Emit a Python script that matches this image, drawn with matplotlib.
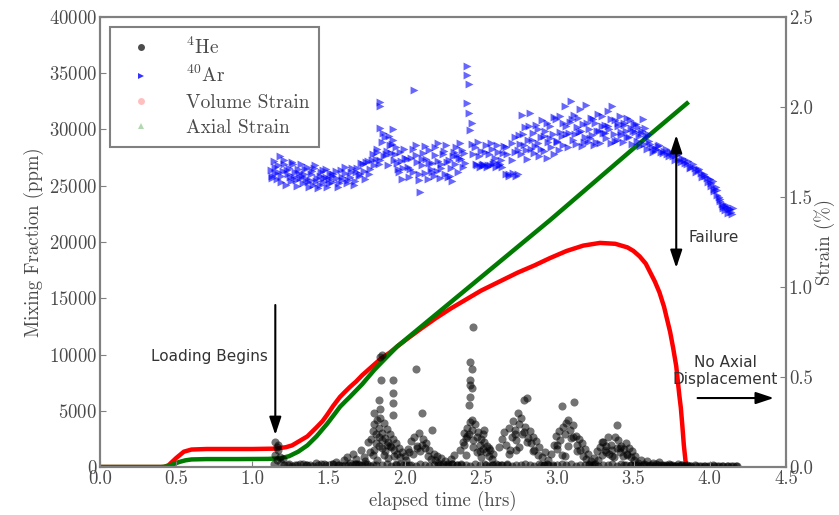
import numpy as np
import matplotlib
matplotlib.use("Agg")
import matplotlib.pyplot as plt
from matplotlib.lines import Line2D

plt.rcParams['font.family'] = 'serif'
plt.rcParams['font.serif'] = ['cmr10']
plt.rcParams['mathtext.fontset'] = 'cm'
plt.rcParams['axes.formatter.use_mathtext'] = True

# 40Ar mixing fraction (ppm) vs elapsed time (hrs)
ar_t = [1.12, 1.13, 1.14, 1.15, 1.16, 1.17, 1.18, 1.19, 1.20, 1.21, 1.22, 1.23, 1.24, 1.25, 1.26, 1.27, 1.28, 1.29, 1.30, 1.31,
        1.32, 1.33, 1.34, 1.35, 1.36, 1.37, 1.38, 1.39, 1.40, 1.41, 1.42, 1.43, 1.44, 1.45, 1.46, 1.47, 1.48, 1.49, 1.50, 1.51,
        1.52, 1.53, 1.55, 1.56, 1.58, 1.59, 1.61, 1.62, 1.64, 1.65, 1.67, 1.68, 1.70, 1.71, 1.73, 1.74, 1.76, 1.77, 1.79, 1.80,
        1.81, 1.82, 1.83, 1.84, 1.84, 1.84, 1.85, 1.86, 1.87, 1.88, 1.89, 1.90, 1.91, 1.92, 1.92, 1.93, 1.94, 1.95, 1.96, 1.97,
        1.98, 1.99, 2.00,
        2.02, 2.03, 2.04, 2.05, 2.06, 2.07, 2.08, 2.09, 2.10, 2.11, 2.12, 2.13, 2.14, 2.15, 2.16, 2.17, 2.18, 2.19, 2.20, 2.21,
        2.22, 2.23, 2.24, 2.25, 2.26, 2.27, 2.28, 2.29, 2.30, 2.31, 2.32, 2.33, 2.34, 2.35, 2.36, 2.37, 2.38, 2.39,
        2.41, 2.41, 2.42, 2.41, 2.42, 2.43, 2.44, 2.44, 2.45,
        2.46, 2.47, 2.48, 2.49, 2.50, 2.51, 2.52, 2.53, 2.54, 2.55, 2.56, 2.57, 2.58, 2.59, 2.60, 2.61, 2.62, 2.63, 2.64, 2.65,
        2.66, 2.67, 2.68, 2.70, 2.71, 2.72, 2.73, 2.74,
        2.75, 2.76, 2.77, 2.78, 2.79, 2.80, 2.81, 2.82, 2.83, 2.84, 2.85, 2.86, 2.87, 2.88, 2.89, 2.90, 2.91, 2.92, 2.93, 2.94,
        2.95, 2.96, 2.97, 2.98, 2.99, 3.00, 3.01, 3.02, 3.03, 3.04,
        3.05, 3.06, 3.07, 3.08, 3.09, 3.10, 3.11, 3.12, 3.13, 3.14, 3.15, 3.16, 3.17, 3.18, 3.19, 3.20, 3.21, 3.22, 3.23, 3.24,
        3.25, 3.26, 3.27, 3.28, 3.29, 3.30,
        3.31, 3.32, 3.33, 3.34, 3.35, 3.36, 3.37, 3.38, 3.39, 3.40, 3.41, 3.42, 3.43, 3.44, 3.45, 3.46, 3.47, 3.48, 3.49, 3.50,
        3.51, 3.52, 3.53, 3.54, 3.55, 3.56, 3.57, 3.58, 3.59, 3.60,
        3.62, 3.64, 3.66, 3.68, 3.70, 3.72, 3.74, 3.76, 3.78, 3.80, 3.82, 3.84, 3.86, 3.88, 3.90, 3.92, 3.94, 3.96, 3.98, 4.00,
        4.01, 4.02, 4.03, 4.04, 4.05, 4.06, 4.07, 4.08, 4.09, 4.10, 4.11, 4.12, 4.13, 4.14, 4.15,
        # second pass through the band
        1.125, 1.145, 1.165, 1.185, 1.205, 1.225, 1.245, 1.265, 1.285, 1.305, 1.325, 1.345, 1.365, 1.385, 1.405, 1.425,
        1.445, 1.465, 1.485, 1.505,
        1.525, 1.545, 1.565, 1.585, 1.605, 1.625, 1.645, 1.665, 1.685, 1.705, 1.725, 1.745, 1.765, 1.785,
        1.815, 1.835, 1.855, 1.875, 1.895, 1.915, 1.935, 1.955, 1.975, 1.995, 2.015, 2.035, 2.055, 2.075, 2.095, 2.115,
        2.135, 2.155, 2.175, 2.195, 2.215, 2.235, 2.255, 2.275, 2.295, 2.315, 2.335, 2.355, 2.375, 2.395,
        2.465, 2.485, 2.505, 2.525, 2.545, 2.565, 2.585, 2.605, 2.625, 2.645, 2.665, 2.685, 2.705, 2.725, 2.745,
        2.755, 2.775, 2.795, 2.815, 2.835, 2.855, 2.875, 2.895, 2.915, 2.935, 2.955, 2.975, 2.995, 3.015, 3.035,
        3.055, 3.075, 3.095, 3.115, 3.135, 3.155, 3.175, 3.195, 3.215, 3.235, 3.255, 3.275, 3.295,
        3.315, 3.335, 3.355, 3.375, 3.395, 3.415, 3.435, 3.455, 3.475, 3.495, 3.515, 3.535, 3.555, 3.575, 3.595,
        3.61, 3.63, 3.65, 3.67, 3.69, 3.71, 3.73, 3.75, 3.77, 3.79, 3.81, 3.83, 3.85, 3.87, 3.89, 3.91, 3.93, 3.95,
        3.97, 3.99, 4.005, 4.025, 4.045, 4.065, 4.085, 4.105, 4.125, 4.145]
ar_ppm = [26400, 25900, 27200, 26100, 25600, 26800, 27600, 25300, 26300, 26900, 25100, 26000, 26600, 25400, 27100, 25800, 26200, 25000, 26500, 25700,
          26900, 25200, 26000, 25600, 26700, 24900, 25500, 26300, 25100, 26800, 25400, 24800, 25900, 26200, 25300, 25700, 26500, 24900, 25600, 26100,
          25300, 26000, 25700, 24900, 26400, 25500, 26100, 25200, 25800, 26600, 25400, 26200, 25900, 27000, 26300, 25600, 27200, 26500, 27800, 26800,
          27400, 28300, 26900, 32400, 32100, 30100, 28900, 27600, 29300, 28100, 26800, 28600, 27900, 30000, 29100, 27300, 28400, 27000, 26200, 28000,
          25600, 26600, 27500,
          26700, 25800, 27500, 26200, 33500, 28600, 27100, 25500, 24400, 26800, 27900, 26100, 27400, 25600, 28200, 26500, 27000, 25900, 28400, 26300,
          27200, 25700, 26900, 27800, 26000, 28600, 25800, 27300, 26600, 25400, 28000, 26900, 27700, 26200, 28800, 27400, 26700, 27900,
          35650, 34850, 34050, 32360, 31470, 29960, 30600, 28700, 27800,
          28400, 26800, 28900, 26700, 28100, 26900, 26800, 28600, 26700, 27800, 26800, 28300, 26900, 27500, 26700, 28000, 26800, 27300, 26700, 28500,
          26000, 27800, 25900, 28800, 26100, 29300, 25900, 28200,
          29500, 27800, 31300, 28600, 30200, 27400, 29100, 31500, 28300, 29700, 27900, 30400, 28800, 27600, 29300, 30800, 28100, 29900, 27500, 28900,
          30300, 28400, 29600, 27800, 30900, 29000, 28200, 31200, 29400, 28600,
          32100, 29600, 28400, 30700, 32500, 29100, 31300, 28700, 30200, 29800, 31800, 28500, 30500, 29300, 32200, 28900, 30000, 31000, 29500, 28600,
          30600, 29900, 31400, 28800, 30300, 29700,
          30400, 29200, 31600, 30000, 28800, 32100, 29600, 30800, 29100, 30300, 31200, 29500, 28900, 30600, 29900, 31000, 29300, 30100, 28700, 30500,
          29800, 29000, 30200, 28500, 29700, 30900, 28700, 29400, 28300, 29000,
          28400, 28200, 28500, 28000, 28100, 27800, 28000, 27600, 27700, 27300, 27500, 27000, 27200, 26700, 26600, 26400, 26100, 26000, 25700, 25600,
          25200, 25400, 24700, 24900, 24200, 24000, 23600, 23400, 23000, 22800, 23100, 22600, 22900, 22700, 23000,
          25700, 26700, 26200, 25900, 27300, 26400, 25800, 26900, 25500, 26100, 25900, 26500, 25300, 26000, 26600, 25700,
          25100, 26400, 25800, 25200,
          25900, 26300, 25200, 25800, 26700, 25500, 26200, 25100, 26600, 26000, 26900, 27100, 26000, 27300,
          28000, 27300, 29700, 27800, 29400, 28700, 27800, 26500, 27200, 28300, 27400, 26500, 28300, 27700, 26000, 27400,
          28500, 27000, 26200, 27700, 28800, 26600, 28100, 27100, 25900, 27600, 28400, 27500, 28200, 27000,
          26900, 27600, 26800, 28000, 26800, 28800, 27100, 28600, 26900, 27900, 28400, 26000, 27300, 28000, 26000,
          28700, 29600, 28200, 30300, 29100, 28500, 30000, 28300, 29400, 30600, 29200, 31100, 28900, 29800, 30600,
          30300, 29700, 30900, 29600, 31000, 29900, 28900, 30600, 29200, 30900, 28900, 29900, 31200,
          29700, 30300, 30900, 29000, 30600, 29800, 30400, 29300, 30800, 29900, 30500, 29400, 29900, 30100, 29600,
          28700, 28000, 28300, 28600, 27900, 28300, 27600, 27900, 27300, 27800, 27100, 27300, 26900, 26600, 26900, 26200,
          26500, 25800, 25900, 25300, 25000, 24500, 24600, 23800, 23200, 23300, 22900, 22500]

# 4He mixing fraction (ppm)
he_t = [1.14, 1.15, 1.15, 1.16, 1.16, 1.17, 1.17, 1.18, 1.19, 1.20,
        1.24, 1.28, 1.31, 1.35, 1.38, 1.42, 1.45, 1.48, 1.52, 1.55, 1.57, 1.60,
        1.62, 1.64, 1.66, 1.68, 1.69, 1.71, 1.73, 1.74, 1.76, 1.77,
        1.84, 1.845, 1.85, 1.92, 1.92, 1.92, 1.83, 1.84, 1.80, 1.92,
        1.78, 1.79, 1.80, 1.81, 1.82, 1.83, 1.84, 1.85, 1.86, 1.87, 1.88, 1.89, 1.90, 1.91, 1.92, 1.93, 1.94, 1.95,
        1.96, 1.97, 1.98, 1.80, 1.83, 1.86, 1.89, 1.82, 1.88, 1.85,
        2.07, 2.11, 2.18, 2.00, 2.02, 2.04, 2.05, 2.06, 2.08, 2.09, 2.10, 2.12, 2.13, 2.14, 2.15, 2.16, 2.17, 2.19,
        2.20, 2.21, 2.22, 2.24, 2.26, 2.28, 2.30, 2.32,
        2.45, 2.43, 2.44, 2.43, 2.43, 2.44, 2.43, 2.42, 2.43, 2.36, 2.38, 2.39, 2.40, 2.41, 2.42, 2.44, 2.45, 2.46,
        2.47, 2.48, 2.49, 2.50, 2.51, 2.52, 2.53, 2.54, 2.55, 2.56, 2.57, 2.58, 2.40, 2.47, 2.50, 2.44, 2.52,
        2.78, 2.80, 2.74, 2.62, 2.64, 2.65, 2.66, 2.68, 2.70, 2.71, 2.72, 2.73, 2.75, 2.76, 2.77, 2.79, 2.81, 2.82,
        2.83, 2.84, 2.85, 2.86, 2.87, 2.88, 2.90, 2.92, 2.94, 2.68, 2.73,
        3.03, 3.11, 3.07, 2.96, 2.98, 2.99, 3.00, 3.01, 3.02, 3.04, 3.05, 3.06, 3.08, 3.09, 3.10, 3.12, 3.13, 3.14,
        3.15, 3.16, 3.17, 3.18, 3.19, 3.20, 3.22, 3.05,
        3.39, 3.33, 3.38, 3.24, 3.26, 3.27, 3.28, 3.29, 3.30, 3.31, 3.32, 3.34, 3.35, 3.36, 3.37, 3.39, 3.40, 3.41,
        3.42, 3.43, 3.44, 3.45, 3.46, 3.47, 3.48, 3.49, 3.50, 3.51,
        3.53, 3.55, 3.57, 3.59, 3.61, 3.63, 3.65, 3.67, 3.69, 3.71, 3.73, 3.75, 3.77, 3.79, 3.81, 3.83, 3.85, 3.87,
        3.90, 3.93, 3.96, 3.99, 4.02, 4.05, 4.08, 4.11, 4.14, 4.17,
        1.63, 1.67, 1.70, 1.75, 1.79, 1.94, 1.99, 2.03, 2.23, 2.27, 2.31, 2.34, 2.37, 2.53, 2.57, 2.60, 2.63, 2.67,
        2.89, 2.91, 2.93, 2.97, 3.21, 3.23, 3.25, 3.44, 3.48, 3.52,
        # near-zero baseline
        1.21, 1.23, 1.26, 1.29, 1.33, 1.36, 1.40, 1.43, 1.47, 1.50, 1.53, 1.56, 1.59, 1.61, 1.65, 1.68, 1.72, 1.74,
        1.77, 1.81, 1.85, 1.88, 1.91, 1.94, 1.97, 2.01, 2.04, 2.07, 2.10, 2.13, 2.16, 2.19, 2.22, 2.25, 2.28, 2.31,
        2.34, 2.37, 2.40, 2.43, 2.46, 2.49, 2.52, 2.55, 2.58, 2.61, 2.64, 2.67, 2.70, 2.73, 2.76, 2.79, 2.82, 2.85,
        2.88, 2.91, 2.94, 2.97, 3.00, 3.03, 3.06, 3.09, 3.12, 3.15, 3.18, 3.21, 3.24, 3.27, 3.30, 3.33, 3.36, 3.39,
        3.42, 3.45, 3.48, 3.51, 3.54, 3.56, 3.58, 3.60, 3.62, 3.64, 3.66, 3.68, 3.70, 3.72, 3.74, 3.76, 3.78, 3.80,
        3.82, 3.84, 3.86, 3.88, 3.91, 3.94, 3.97, 4.00, 4.03, 4.06, 4.09, 4.12, 4.15, 4.18,
        # extra cluster points
        1.79, 1.81, 1.83, 1.85, 1.87, 1.90, 1.93, 2.01, 2.03, 2.08, 2.11, 2.39, 2.41, 2.45, 2.49, 2.51, 2.55,
        2.69, 2.72, 2.75, 2.78, 2.80, 2.84, 3.00, 3.03, 3.07, 3.10, 3.13, 3.29, 3.32, 3.36, 3.41, 3.46]
he_ppm = [300, 2200, 1100, 1800, 600, 1500, 2000, 900, 400, 700,
          250, 150, 300, 200, 150, 350, 250, 180, 300, 450, 200, 600,
          900, 400, 1200, 700, 300, 1500, 900, 500, 2200, 1300,
          9780, 7730, 9950, 7730, 6580, 5690, 5960, 5160, 4800, 4620,
          2500, 3200, 3800, 2900, 4200, 3500, 4400, 3000, 3900, 2600, 3400, 2200, 2900, 1800, 2500, 1500, 2100, 1200,
          1700, 900, 1300, 1500, 1900, 1100, 800, 600, 2000, 1700,
          8710, 4800, 3290, 1000, 1600, 2300, 1200, 2700, 1900, 3000, 1400, 2500, 1700, 2100, 1000, 1500, 700, 1200,
          600, 1000, 400, 800, 500, 300, 700, 1100,
          12450, 9330, 8710, 7730, 7330, 7020, 6220, 5510, 4000, 1500, 2200, 3000, 2600, 3500, 2900, 3300, 2400, 3800,
          2700, 3100, 2000, 2500, 1600, 2200, 1300, 1900, 1000, 1500, 700, 1200, 1100, 1300, 900, 4180, 3290,
          5960, 6100, 4800, 1800, 2500, 3100, 2000, 3500, 2700, 4100, 3300, 2400, 3800, 4400, 2900, 3600, 2600, 3200,
          2100, 2700, 1500, 2300, 1100, 1800, 900, 1300, 600, 1200, 1500,
          5420, 5780, 4180, 1200, 2000, 2800, 1600, 3200, 2400, 3600, 2900, 3900, 3300, 2600, 3700, 2800, 2000, 2500,
          1500, 2100, 1000, 1600, 700, 1200, 500, 1000,
          3730, 2670, 2670, 800, 1400, 600, 1800, 1100, 2200, 1500, 1900, 1200, 2000, 1500, 900, 1700, 2400, 1300,
          1900, 1000, 1600, 2100, 1200, 1700, 900, 1400, 600, 1000,
          400, 600, 300, 500, 200, 350, 250, 450, 200, 150, 300, 200, 100, 250, 150, 100, 200, 100,
          150, 100, 120, 100, 150, 100, 120, 100, 130, 100,
          200, 250, 150, 300, 200, 250, 150, 200, 150, 200, 250, 150, 300, 200, 150, 250, 200, 150,
          200, 150, 250, 200, 150, 200, 250, 200, 150, 200,
          150, 200, 120, 180, 250, 150, 100, 200, 300, 150, 250, 180, 120, 220, 150, 300, 180, 250,
          120, 200, 150, 250, 100, 180, 300, 150, 200, 120, 250, 180, 100, 200, 150, 300, 120, 250,
          180, 150, 200, 100, 250, 150, 300, 120, 200, 180, 150, 250, 100, 200, 150, 300, 180, 120,
          250, 150, 200, 100, 180, 250, 150, 300, 120, 200, 150, 250, 180, 100, 200, 150, 300, 120,
          250, 180, 150, 200, 100, 150, 200, 120, 180, 100, 150, 200, 120, 100, 150, 130, 100, 120,
          150, 100, 130, 120, 100, 110, 130, 100, 120, 110, 100, 120, 100, 110,
          1100, 2100, 2700, 2400, 1400, 1900, 1000, 600, 1300, 1700, 2000, 2000, 2800, 1800, 1400, 2900, 1700,
          1500, 2900, 1800, 3100, 2200, 1400, 2000, 1100, 1900, 2700, 1400, 2200, 1300, 1000, 1700, 1100]

# axial strain (%)
ax_t = [0.00, 0.40, 0.44, 0.48, 0.52, 0.56, 0.60, 0.70, 0.90, 1.10, 1.18, 1.24, 1.30, 1.36, 1.42, 1.49,
        1.535, 1.575, 1.61, 1.64, 1.68, 1.72, 1.76, 1.80, 1.84, 1.88, 1.95, 2.30, 2.95, 3.50, 3.85]
ax_strain = [0.0, 0.0, 0.003, 0.015, 0.028, 0.037, 0.042, 0.044, 0.044, 0.045, 0.048, 0.06, 0.085, 0.12, 0.17, 0.24,
             0.29, 0.335, 0.365, 0.39, 0.425, 0.46, 0.50, 0.54, 0.575, 0.61, 0.67, 0.915, 1.37, 1.77, 2.02]

# volume strain (%)
vol_t = [0.00, 0.42, 0.45, 0.50, 0.55, 0.60, 0.70, 1.00, 1.15, 1.22, 1.26, 1.29, 1.32, 1.36, 1.39, 1.42, 1.46, 1.49,
         1.53, 1.575, 1.61, 1.64, 1.68, 1.72, 1.78, 1.84, 1.90, 1.95, 2.02, 2.10, 2.20, 2.30, 2.40, 2.50, 2.62, 2.74,
         2.85, 2.95, 3.06, 3.17, 3.28, 3.38, 3.46, 3.50, 3.54, 3.58, 3.61, 3.64, 3.67, 3.70, 3.72, 3.74, 3.76, 3.78,
         3.79, 3.80, 3.81, 3.82, 3.83, 3.845]
vol_strain = [0.0, 0.0, 0.01, 0.05, 0.085, 0.097, 0.10, 0.10, 0.102, 0.11, 0.12, 0.135, 0.15, 0.17, 0.195, 0.22, 0.255, 0.29,
              0.34, 0.39, 0.42, 0.445, 0.475, 0.51, 0.555, 0.60, 0.635, 0.67, 0.715, 0.765, 0.825, 0.88, 0.93, 0.98, 1.03, 1.08,
              1.12, 1.16, 1.20, 1.23, 1.245, 1.24, 1.22, 1.20, 1.17, 1.13, 1.08, 1.03, 0.97, 0.89, 0.82, 0.75, 0.66, 0.56,
              0.48, 0.40, 0.33, 0.23, 0.12, 0.0]

grey = '#808080'
txt = '#4a4a4a'

fig = plt.figure(figsize=(8.39, 5.15), dpi=100)
ax1 = fig.add_axes([100 / 839, 48 / 515, 686 / 839, 450 / 515])
ax2 = ax1.twinx()

ax2.plot(vol_t, vol_strain, color='#ff0000', lw=3.2, solid_joinstyle='round')
ax2.plot(ax_t, ax_strain, color='#007a00', lw=3.2, solid_joinstyle='round')

ax1.set_zorder(ax2.get_zorder() + 1)
ax1.patch.set_visible(False)
ax1.scatter(he_t, he_ppm, s=34, marker='o', color='black', alpha=0.55, linewidths=0)
ax1.scatter(ar_t, ar_ppm, s=32, marker='>', color='blue', alpha=0.6, linewidths=0)

ax1.set_xlim(0, 4.5)
ax1.set_ylim(0, 40000)
ax2.set_ylim(0, 2.5)
ax1.set_xticks(np.arange(0, 4.51, 0.5))
ax1.set_yticks(np.arange(0, 40001, 5000))
ax2.set_yticks(np.arange(0, 2.51, 0.5))
ax1.xaxis.set_major_formatter(plt.FormatStrFormatter('%.1f'))
ax2.yaxis.set_major_formatter(plt.FormatStrFormatter('%.1f'))

for a in (ax1, ax2):
    for s in a.spines.values():
        s.set_color(grey)
        s.set_linewidth(1.5)
    a.tick_params(direction='in', length=4, color=grey, labelsize=13.5, labelcolor=txt, pad=2)

ax1.set_xlabel('elapsed time (hrs)', fontsize=13.5, color=txt, labelpad=2)
ax1.set_ylabel('Mixing Fraction (ppm)', fontsize=13.5, color=txt, labelpad=4)
ax2.set_ylabel('Strain (%)', fontsize=13.5, color=txt, labelpad=1)

# annotations
sans = 'DejaVu Sans'
arrow_kw = dict(color='black', lw=1.5, mutation_scale=12, shrinkA=0, shrinkB=0)
ax1.annotate('', xy=(1.15, 2850), xytext=(1.15, 14400),
             arrowprops=dict(arrowstyle='-|>,head_length=0.9,head_width=0.3', **arrow_kw))
ax1.text(0.715, 9780, 'Loading Begins', family=sans, fontsize=11, color='#333333', ha='center', va='center')

ax1.annotate('', xy=(3.78, 17700), xytext=(3.78, 29500),
             arrowprops=dict(arrowstyle='<|-|>,head_length=0.9,head_width=0.3', **arrow_kw))
ax1.text(3.86, 20400, 'Failure', family=sans, fontsize=11, color='#333333', ha='left', va='center')

ax1.annotate('', xy=(4.42, 6130), xytext=(3.92, 6130),
             arrowprops=dict(arrowstyle='-|>,head_length=0.9,head_width=0.3', **arrow_kw), annotation_clip=False)
ax1.text(4.10, 8530, 'No Axial\nDisplacement', family=sans, fontsize=11, color='#333333',
         ha='center', va='center', multialignment='center', linespacing=1.15)

handles = [Line2D([], [], ls='none', marker='o', color='black', alpha=0.7, markersize=5, markeredgewidth=0),
           Line2D([], [], ls='none', marker='>', color='blue', alpha=0.8, markersize=5, markeredgewidth=0),
           Line2D([], [], ls='none', marker='o', color='red', alpha=0.25, markersize=5, markeredgewidth=0),
           Line2D([], [], ls='none', marker='^', color='green', alpha=0.3, markersize=5, markeredgewidth=0)]
labels = ['$^{4}$He', '$^{40}$Ar', 'Volume Strain', 'Axial Strain']
leg = ax1.legend(handles, labels, loc='upper left', bbox_to_anchor=(0.0146, 0.978), borderaxespad=0,
                 numpoints=1, fontsize=14, fancybox=False, framealpha=1, labelspacing=0.38,
                 handlelength=2.2, handletextpad=1.2, borderpad=0.5)
leg.get_frame().set_edgecolor(grey)
leg.get_frame().set_linewidth(1.5)
for t in leg.get_texts():
    t.set_color(txt)

fig.savefig('out.png', dpi=100)
